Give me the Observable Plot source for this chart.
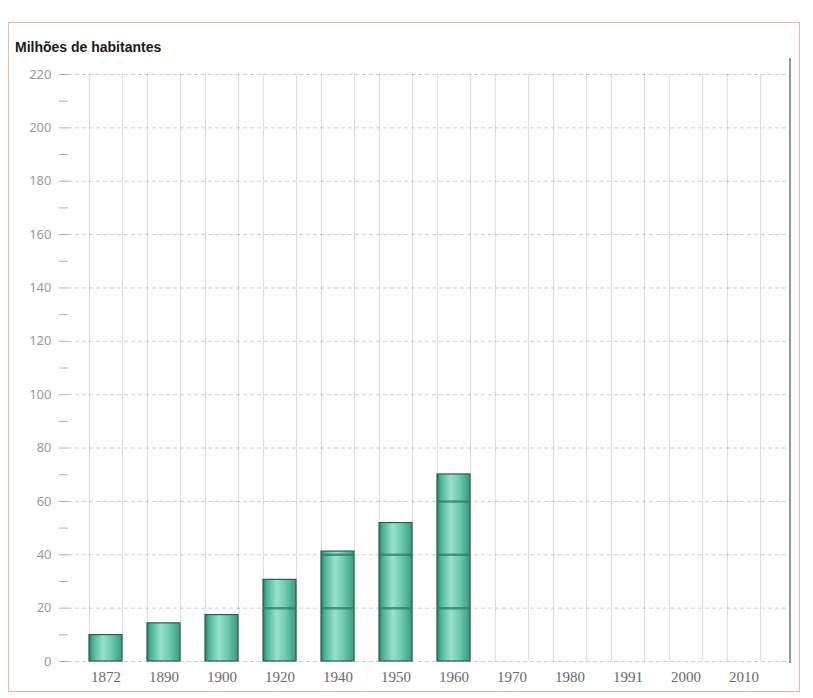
<!DOCTYPE html>
<html><head><meta charset="utf-8">
<script src="https://cdn.jsdelivr.net/npm/d3@7"></script>
<script src="https://cdn.jsdelivr.net/npm/@observablehq/plot@0.6"></script>
<style>
body{margin:0;background:#fff;width:813px;height:698px;overflow:hidden;position:relative;font-family:"Liberation Sans",Arial,sans-serif}
#box{position:absolute;left:8px;top:22px;width:792px;height:670px;border:1.5px solid #ebb89e;box-sizing:border-box}
#title{position:absolute;left:15px;top:39px;font-weight:bold;font-size:14px;color:#1a1a1a}
#chart{position:absolute;left:0;top:0}
#edge{position:absolute;left:789px;top:58px;width:2px;height:605px;background:#9097ad}
</style></head><body>
<div id="box"></div>
<div id="chart"></div>
<div id="edge"></div>
<div id="title">Milhões de habitantes</div>
<script>
const years = ["1872","1890","1900","1920","1940","1950","1960","1970","1980","1991","2000","2010"];
const barYears = ["1872","1890","1900","1920","1940","1950","1960"];
const population = [9.9, 14.3, 17.4, 30.6, 41.2, 51.9, 70.1];
const yTicks = d3.range(0, 221, 10);
const yLabels = d3.range(0, 221, 20);
const data = barYears.map((y, i) => ({year: y, value: population[i]}));
const inBarLines = data.flatMap(d => yLabels.filter(g => g > 0 && g < d.value - 1).map(g => ({year: d.year, y: g})));

const xRange = [75, 774];
const padIn = 0.43, padOut = 0.215;
const step = (xRange[1] - xRange[0]) / (years.length - padIn + 2 * padOut);
const half = step * (1 - padIn) / 2;

const chart = Plot.plot({
  width: 813,
  height: 698,
  marginLeft: 68,
  marginRight: 23,
  marginTop: 74,
  marginBottom: 37,
  style: {background: "transparent"},
  x: {domain: years, range: xRange, paddingInner: padIn, paddingOuter: padOut, label: null},
  y: {domain: [0, 220], label: null},
  marks: [
    Plot.ruleX(years, {x: d => d, dx: -half, stroke: "#dadada", strokeWidth: 1}),
    Plot.ruleX(years, {x: d => d, dx: half, stroke: "#dadada", strokeWidth: 1}),
    Plot.gridY(yLabels, {stroke: "#3a3a3a", strokeOpacity: 0.25, strokeDasharray: "4,3", strokeWidth: 1}),
    Plot.barY(data, {x: "year", y: "value", fill: "url(#cyl)", stroke: "#2b5e50", strokeWidth: 1.2}),
    Plot.tickY(inBarLines, {x: "year", y: "y", stroke: "#2f7c66", strokeOpacity: 0.75, strokeWidth: 2.5}),
    Plot.axisY(yTicks, {tickSize: 9, tickFormat: () => "", color: "#b0b0b0"}),
    Plot.axisY(yLabels, {tickSize: 0, tickPadding: 17, color: "#9a9a9a", fontSize: 13}),
    Plot.axisX({tickSize: 0, tickPadding: 10, fontSize: 15, fontFamily: "Liberation Serif", color: "#6a6a6a"})
  ]
});
chart.insertAdjacentHTML("afterbegin",
  '<defs><linearGradient id="cyl" x1="0" x2="1" y1="0" y2="0">' +
  '<stop offset="0" stop-color="#2c8068"/><stop offset="0.12" stop-color="#4db497"/>' +
  '<stop offset="0.42" stop-color="#98e2cb"/><stop offset="0.68" stop-color="#6ccbae"/>' +
  '<stop offset="1" stop-color="#3a9a7f"/></linearGradient></defs>');
document.getElementById("chart").appendChild(chart);
</script>
</body></html>
